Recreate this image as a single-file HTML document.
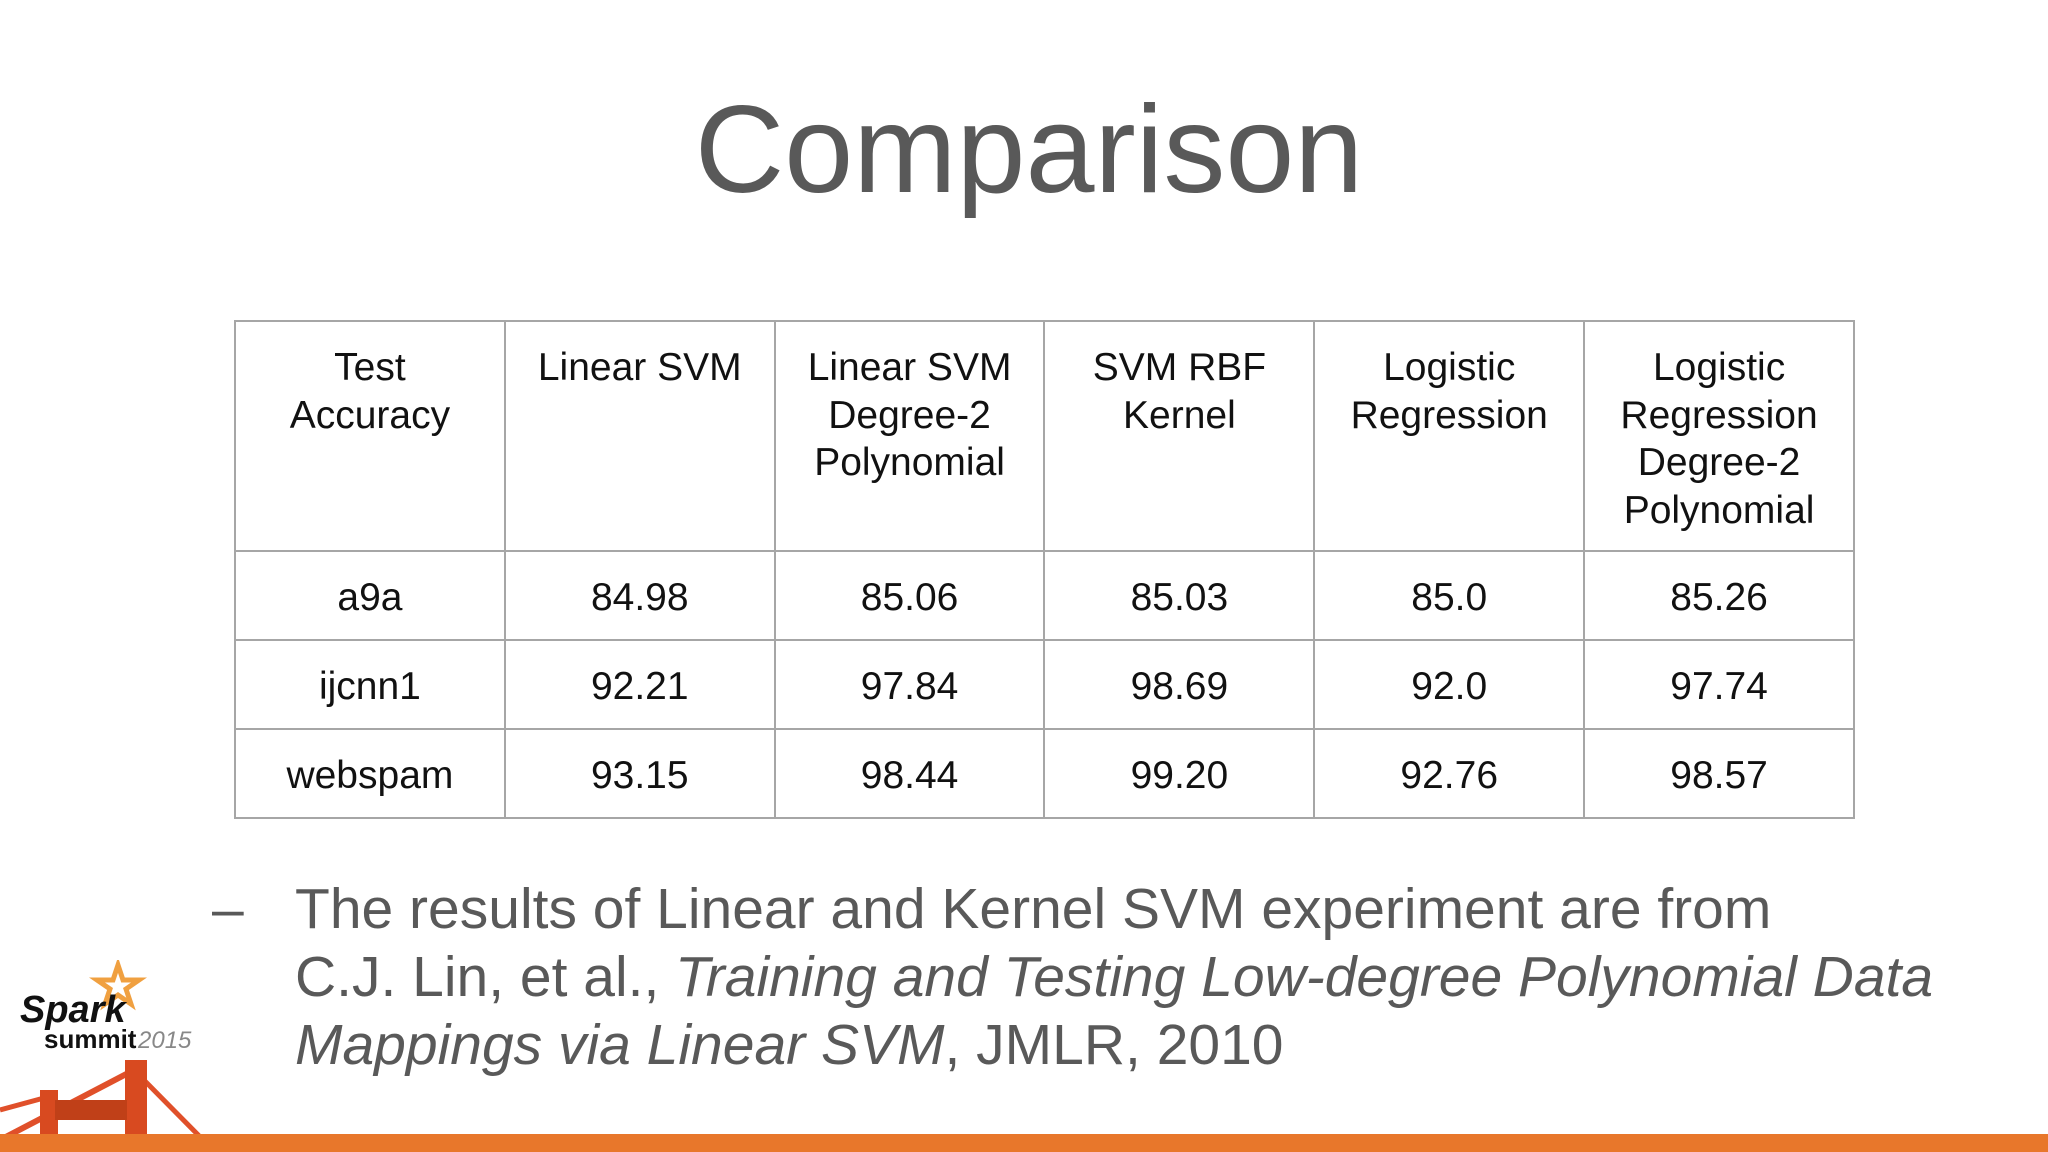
<!DOCTYPE html>
<html><head><meta charset="utf-8">
<style>
html,body{margin:0;padding:0;width:2048px;height:1152px;background:#fff;overflow:hidden;font-family:"Liberation Sans",Arial,sans-serif;}
#title{position:absolute;left:0;width:2058px;top:80px;text-align:center;font-size:124px;color:#595959;line-height:140px;}
table{position:absolute;left:234px;top:320px;border-collapse:collapse;width:1621px;table-layout:fixed;}
td{border:2px solid #a6a6a6;text-align:center;font-size:39px;color:#111;padding:0;}
tr.h td{height:230px;vertical-align:top;padding-top:22px;line-height:47.5px;box-sizing:border-box;}
tr.r td{height:83px;vertical-align:middle;padding-top:4px;}
.note{position:absolute;left:295px;top:875px;font-size:57px;line-height:68px;color:#595959;white-space:nowrap;}
.dash{position:absolute;left:212px;top:875px;font-size:57px;line-height:68px;color:#595959;}
#bar{position:absolute;left:0;top:1134px;width:2048px;height:18px;background:#e8772b;}
</style></head><body>
<div id="title">Comparison</div>
<table>
<tr class="h"><td>Test<br>Accuracy</td><td>Linear SVM</td><td>Linear SVM<br>Degree-2<br>Polynomial</td><td>SVM RBF<br>Kernel</td><td>Logistic<br>Regression</td><td>Logistic<br>Regression<br>Degree-2<br>Polynomial</td></tr>
<tr class="r"><td>a9a</td><td>84.98</td><td>85.06</td><td>85.03</td><td>85.0</td><td>85.26</td></tr>
<tr class="r"><td>ijcnn1</td><td>92.21</td><td>97.84</td><td>98.69</td><td>92.0</td><td>97.74</td></tr>
<tr class="r"><td>webspam</td><td>93.15</td><td>98.44</td><td>99.20</td><td>92.76</td><td>98.57</td></tr>
</table>
<div class="dash">–</div>
<div class="note">The results of Linear and Kernel SVM experiment are from<br>C.J. Lin, et al., <i>Training and Testing Low-degree Polynomial Data</i><br><i>Mappings via Linear SVM</i>, JMLR, 2010</div>
<svg style="position:absolute;left:0;top:960px" width="220" height="192">
<polygon points="118,5 123,20 139,20 126,29 131,44 118,35 105,44 110,29 97,20 113,20" fill="none" stroke="#f0a040" stroke-width="5"/>
<text x="20" y="62" font-family="Liberation Sans" font-weight="bold" font-style="italic" font-size="38" fill="#111">Spark</text>
<text x="44" y="88" font-family="Liberation Sans" font-weight="bold" font-size="26" fill="#111">summit</text>
<text x="138" y="88" font-family="Liberation Sans" font-style="italic" font-size="24" fill="#888">2015</text>
<line x1="0" y1="180" x2="134" y2="110" stroke="#e0502a" stroke-width="6"/>
<line x1="134" y1="110" x2="215" y2="192" stroke="#e0502a" stroke-width="5"/>
<line x1="0" y1="150" x2="55" y2="135" stroke="#e0502a" stroke-width="5"/>
<rect x="40" y="130" width="18" height="62" fill="#d84a20"/>
<rect x="125" y="100" width="22" height="92" fill="#d84a20"/>
<rect x="55" y="140" width="72" height="20" fill="#c04018"/>
</svg>
<div id="bar"></div>
</body></html>
